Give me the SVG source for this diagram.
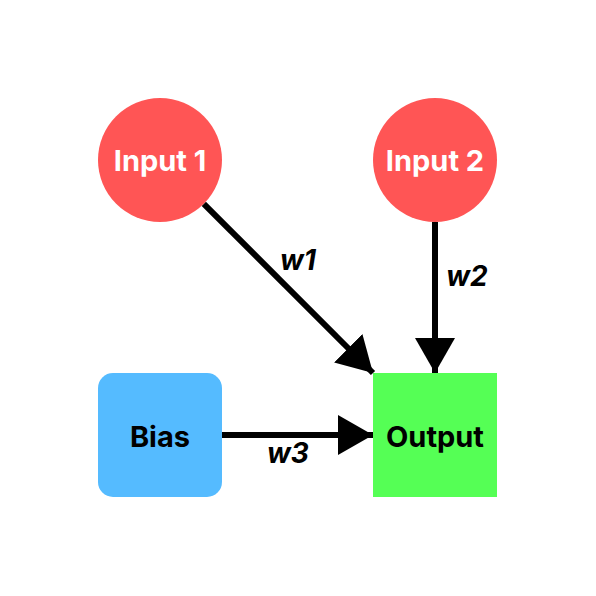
<svg xmlns="http://www.w3.org/2000/svg" width="596" height="596" viewBox="0 0 596 596">
<style>
.lbl{font-family:Inter,"Liberation Sans",sans-serif;font-weight:700;font-size:29px;text-anchor:middle}
.w{font-family:Inter,"Liberation Sans",sans-serif;font-weight:700;font-style:italic;font-size:28px;text-anchor:middle;fill:#000}
.edge{stroke:#000;stroke-width:6;fill:none}
</style>
<defs>
<marker id="ah" markerUnits="userSpaceOnUse" markerWidth="36" markerHeight="40" refX="35" refY="20" orient="auto">
<path d="M0,0 L35,20 L0,40 Z" fill="#000"/>
</marker>
</defs>
<rect width="596" height="596" fill="#fff"/>
<g id="connectors">
<line class="edge" x1="203.8" y1="203.8" x2="373" y2="373" marker-end="url(#ah)"/>
<line class="edge" x1="435" y1="222" x2="435" y2="373" marker-end="url(#ah)"/>
<line class="edge" x1="222" y1="435" x2="373" y2="435" marker-end="url(#ah)"/>
<text class="w" x="298" y="270">w1</text>
<text class="w" x="467" y="286">w2</text>
<text class="w" x="288" y="463">w3</text>
</g>
<g id="input1">
<circle cx="160" cy="160" r="62" fill="#ff5555"/>
<text class="lbl" x="160" y="171" fill="#fff">Input 1</text>
</g>
<g id="input2">
<circle cx="435" cy="160" r="62" fill="#ff5555"/>
<text class="lbl" x="435" y="171" fill="#fff">Input 2</text>
</g>
<g id="bias">
<rect x="98" y="373" width="124" height="124" rx="15" fill="#55bbff"/>
<text class="lbl" x="160" y="447" fill="#000">Bias</text>
</g>
<g id="output">
<rect x="373" y="373" width="124" height="124" fill="#55ff55"/>
<text class="lbl" x="435" y="447" fill="#000">Output</text>
</g>
</svg>
